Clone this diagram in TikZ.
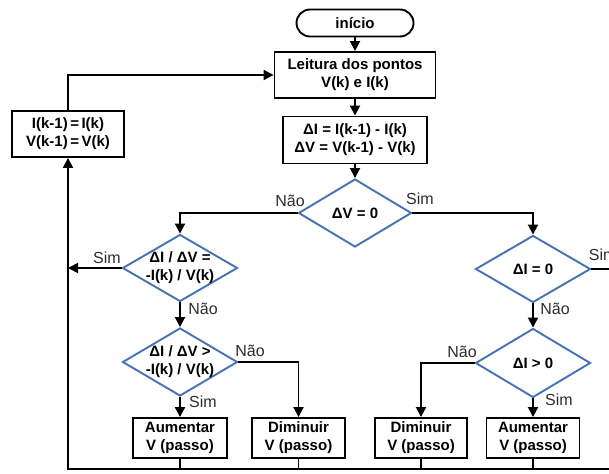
\documentclass[tikz,border=0pt]{standalone}
\usepackage{fontspec}
\setmainfont{Liberation Sans}
\usetikzlibrary{shapes.geometric, arrows.meta, positioning}
\definecolor{decblue}{RGB}{68,114,180}
\definecolor{lblgray}{RGB}{45,45,45}

\begin{document}
\begin{tikzpicture}[x=1pt, y=-1pt, line width=1.9pt,
  box/.style={draw, rectangle, inner sep=0pt, align=center, font=\bfseries\fontsize{15}{18}\selectfont},
  dec/.style={draw=decblue, diamond, inner sep=0pt, minimum width=115, minimum height=68},
  dtxt/.style={align=center, inner sep=0pt, font=\bfseries\fontsize{15}{18}\selectfont},
  lbl/.style={text=lblgray, inner sep=0pt, font=\fontsize{16}{18}\selectfont},
  arr/.style={-{Triangle[length=10pt,width=10pt]}},
]
\useasboundingbox (0,0) rectangle (609,473);

% main column
\node[box, rounded corners=13.5pt, minimum width=117, minimum height=27] (inicio) at (355,23) {início};
\node[box, minimum width=161, minimum height=46] (leitura) at (355,75) {Leitura dos pontos\\V(k) e I(k)};
\node[box, minimum width=144, minimum height=47] (delta) at (355,140) {ΔI = I(k-1) - I(k)\\ΔV = V(k-1) - V(k)};
\node[dec, minimum width=113, label={[dtxt]center:ΔV = 0}] (dv) at (355,213) {};
\node[box, minimum width=112, minimum height=46] (upd) at (68,134) {I(k-1)\,=\,I(k)\\V(k-1)\,=\,V(k)};

% left branch
\node[dec, minimum height=67, label={[dtxt]center:{ΔI / ΔV =\\-I(k) / V(k)}}] (d1) at (180,268) {};
\node[dec, label={[dtxt]center:{ΔI / ΔV >\\-I(k) / V(k)}}] (d2) at (180,362) {};
\node[box, minimum width=94, minimum height=40] (aum1) at (180,438) {Aumentar\\V (passo)};
\node[box, minimum width=93, minimum height=40] (dim1) at (298.5,438) {Diminuir\\V (passo)};

% right branch
\node[dec, minimum height=67, label={[dtxt]center:ΔI = 0}] (di0) at (533,269) {};
\node[dec, minimum height=69, label={[dtxt]center:ΔI > 0}] (dig) at (533,363) {};
\node[box, minimum width=92, minimum height=40] (dim2) at (421,438) {Diminuir\\V (passo)};
\node[box, minimum width=93, minimum height=40] (aum2) at (533,438) {Aumentar\\V (passo)};

\coordinate (botl) at (68,469);
\coordinate (botr) at (620,469);
\coordinate (edge) at (620,269);

% connectors
\draw[arr] (inicio) -- (leitura);
\draw[arr] (leitura) -- (delta);
\draw[arr] (delta) -- (dv);
\draw[arr] (dv.west) -| (d1.north);
\draw[arr] (dv.east) -| (di0.north);
\draw[arr] (d1.west) -- (d1.west -| botl);
\draw[arr] (d1) -- (d2);
\draw[arr] (d2) -- (aum1);
\draw[arr] (d2.east) -| (dim1.north);
\draw (di0.east) -- (edge);
\draw[arr] (di0) -- (dig);
\draw[arr] (dig) -- (aum2);
\draw[arr] (dig.west) -| (dim2.north);
\foreach \b in {aum1,dim1,dim2,aum2}
  \draw (\b.south) -- (\b.south |- botl);
\draw[arr] (botr) -- (botl) -- (upd.south);
\draw[arr] (upd.north) |- (leitura.west);

% Sim / Nao labels
\node[lbl] (ndv) at (290,201) {Não};
\node[lbl] (sdv) at (420,199) {Sim};
\node[lbl] (sd1) at (107,258) {Sim};
\node[lbl] (nd1) at (203,309) {Não};
\node[lbl] (nd2) at (250,351) {Não};
\node[lbl] (sd2) at (203,402) {Sim};
\node[lbl, anchor=west] (sdi0) at (588,255) {Sim};
\node[lbl] (ndi0) at (555,309) {Não};
\node[lbl] (ndig) at (462,352) {Não};
\node[lbl] (sdig) at (559,400) {Sim};

\end{tikzpicture}
\end{document}
